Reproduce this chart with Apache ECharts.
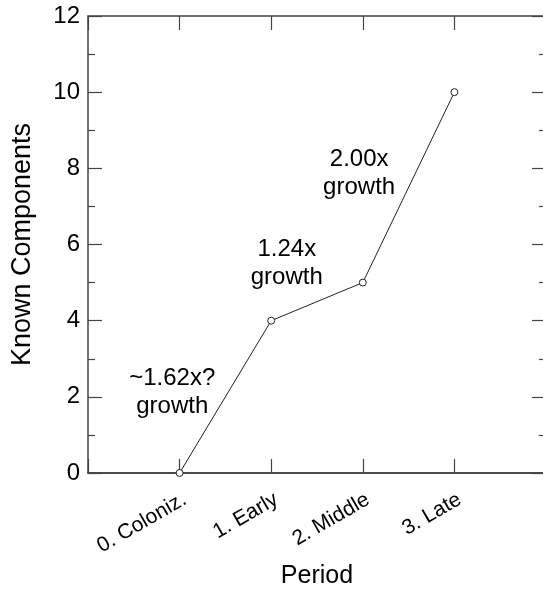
<!DOCTYPE html>
<html>
<head>
<meta charset="utf-8">
<script src="https://cdn.jsdelivr.net/npm/echarts@6/dist/echarts.min.js"></script>
<style>
html,body{margin:0;padding:0;background:#fff;}
#chart{width:543px;height:590px;}
</style>
</head>
<body>
<div id="chart"></div>
<script>
var categories = ['0. Coloniz.', '1. Early', '2. Middle', '3. Late'];
var knownComponents = [0, 4, 5, 10];
var annotationText = ['~1.62x?\ngrowth', '1.24x\ngrowth', '2.00x\ngrowth'];
var annotationX = [-0.08, 1.17, 1.96];
var annotationY = [2.12, 5.5, 7.86];
var yTicks = [0, 2, 4, 6, 8, 10, 12];

var FONT = '"Liberation Sans", Arial, sans-serif';
var lineData = knownComponents.map(function (v, i) { return [i, v]; });
var annData = annotationText.map(function (t, i) { return { value: [annotationX[i], annotationY[i]], text: t }; });

var axisLineStyle = { color: '#444', width: 1.5 };
var tickStyle = { color: '#444', width: 1.2 };
var chart = echarts.init(document.getElementById('chart'), null, { renderer: 'canvas' });
chart.setOption({
  animation: false,
  backgroundColor: '#fff',
  grid: { left: 88, top: 16, width: 458, height: 457, containLabel: false, outerBoundsMode: 'none' },
  xAxis: [{
    type: 'value', position: 'bottom', min: -1, max: 4, interval: 1,
    name: 'Period', nameLocation: 'middle', nameGap: 91,
    nameTextStyle: { fontFamily: FONT, fontSize: 25, color: '#000' },
    axisLine: { show: true, onZero: false, lineStyle: { color: '#111', width: 1.5 } },
    axisTick: { show: true, inside: true, length: 14, lineStyle: tickStyle },
    axisLabel: {
      rotate: 30, margin: 16, fontFamily: FONT, fontSize: 21, color: '#000',
      align: 'right', verticalAlign: 'top',
      formatter: function (v) { return categories[v] !== undefined ? categories[v] : ''; }
    },
    splitLine: { show: false }
  }, {
    type: 'value', position: 'top', min: -1, max: 4, interval: 1,
    axisLine: { show: true, onZero: false, lineStyle: axisLineStyle },
    axisTick: { show: true, inside: true, length: 14, lineStyle: tickStyle },
    axisLabel: { show: false },
    splitLine: { show: false }
  }],
  yAxis: [{
    type: 'value', position: 'left', min: 0, max: 12, interval: 2,
    name: 'Known Components', nameLocation: 'middle', nameGap: 52,
    nameTextStyle: { fontFamily: FONT, fontSize: 27, color: '#000' },
    axisLine: { show: true, onZero: false, lineStyle: axisLineStyle },
    axisTick: { show: true, inside: true, length: 14, lineStyle: tickStyle },
    minorTick: { show: true, splitNumber: 2, length: 7, lineStyle: tickStyle },
    axisLabel: {
      margin: 8, fontFamily: FONT, fontSize: 24, color: '#000',
      formatter: function (v) { return yTicks.indexOf(v) >= 0 ? String(v) : ''; }
    },
    splitLine: { show: false }
  }, {
    type: 'value', position: 'right', min: 0, max: 12, interval: 2,
    axisLine: { show: true, onZero: false, lineStyle: axisLineStyle },
    axisTick: { show: true, inside: true, length: 14, lineStyle: tickStyle },
    minorTick: { show: true, splitNumber: 2, length: 7, lineStyle: tickStyle },
    axisLabel: { show: false },
    splitLine: { show: false }
  }],
  series: [{
    type: 'line', xAxisIndex: 0, yAxisIndex: 0,
    data: lineData,
    symbol: 'circle', symbolSize: 7, showSymbol: true,
    lineStyle: { color: '#222', width: 1 },
    itemStyle: { color: '#fff', borderColor: '#222', borderWidth: 1 },
    z: 5
  }, {
    type: 'scatter', xAxisIndex: 0, yAxisIndex: 0,
    data: annData, symbolSize: 1,
    itemStyle: { color: 'rgba(0,0,0,0)', opacity: 1 },
    label: {
      show: true, position: 'inside', fontFamily: FONT, fontSize: 24, lineHeight: 28,
      color: '#000', opacity: 1, textBorderWidth: 0, align: 'center', verticalAlign: 'middle',
      formatter: function (p) { return p.data.text; }
    },
    silent: true, z: 6
  }]
});
</script>
</body>
</html>
